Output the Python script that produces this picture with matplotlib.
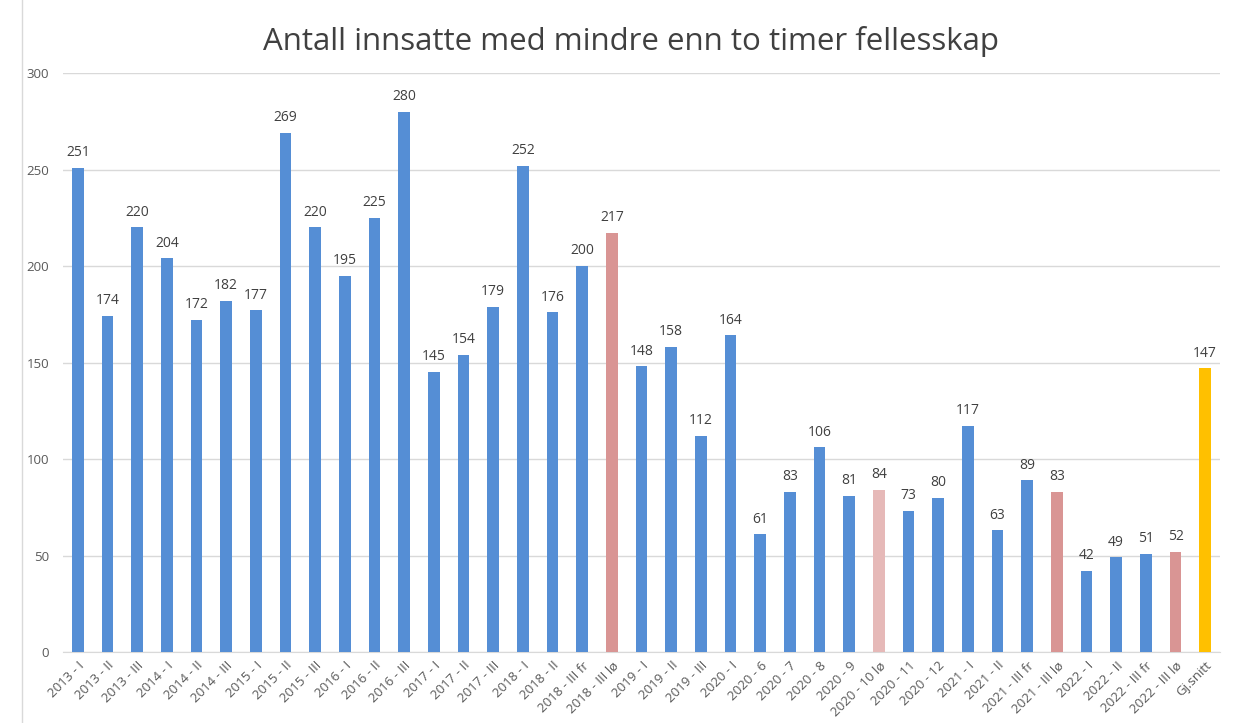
import matplotlib.pyplot as plt
import numpy as np

plt.rcParams['font.family'] = ['Open Sans', 'DejaVu Sans']

labels = ["2013 - I", "2013 - II", "2013 - III", "2014 - I", "2014 - II", "2014 - III",
          "2015 - I", "2015 - II", "2015 - III", "2016 - I", "2016 - II", "2016 - III",
          "2017 - I", "2017 - II", "2017 - III", "2018 - I", "2018 - II", "2018 - III fr",
          "2018 - III lø", "2019 - I", "2019 - II", "2019 - III", "2020 - I", "2020 - 6",
          "2020 - 7", "2020 - 8", "2020 - 9", "2020 - 10 lø", "2020 - 11", "2020 - 12",
          "2021 - I", "2021 - II", "2021 - III fr", "2021 - III lø", "2022 - I", "2022 - II",
          "2022 - III fr", "2022 - III lø", "Gj.snitt"]
values = [251, 174, 220, 204, 172, 182, 177, 269, 220, 195, 225, 280, 145, 154, 179,
          252, 176, 200, 217, 148, 158, 112, 164, 61, 83, 106, 81, 84, 73, 80,
          117, 63, 89, 83, 42, 49, 51, 52, 147]

blue = '#558ED5'
red = '#D99594'
pink = '#E6B9B8'
gold = '#FFC000'
colors = [blue] * len(values)
for lab in ["2018 - III lø", "2021 - III lø", "2022 - III lø"]:
    colors[labels.index(lab)] = red
colors[labels.index("2020 - 10 lø")] = pink
colors[labels.index("Gj.snitt")] = gold

fig = plt.figure(figsize=(12.43, 7.23), dpi=100)
ax = fig.add_axes([0.0507, 0.0982, 0.9308, 0.8008])

x = np.arange(len(values))
bars = ax.bar(x, values, width=0.4, color=colors, zorder=3)
for xi, v in zip(x, values):
    ax.text(xi, v + 4, str(v), ha='center', va='bottom', fontsize=10, color='#404040')

ax.set_xlim(-0.5, len(values) - 0.5)
ax.set_ylim(0, 300)
ax.set_yticks(range(0, 301, 50))
ax.yaxis.grid(True, color='#D9D9D9', linewidth=1, zorder=0)
ax.set_xticks(x)
ax.set_xticklabels(labels, rotation=45, ha='right', rotation_mode='anchor', fontsize=9.5, color='#595959')
ax.tick_params(axis='y', labelsize=9.5, colors='#595959', length=0, pad=10)
ax.tick_params(axis='x', length=0, pad=5)
for s in ['top', 'right', 'left']:
    ax.spines[s].set_visible(False)
ax.spines['bottom'].set_color('#D9D9D9')

fig.text(0.508, 0.943, "Antall innsatte med mindre enn to timer fellesskap", ha='center', va='center',
         fontsize=22.5, color='#404040')

fig.patches.append(plt.Rectangle((0.018, -0.01), 0.99, 1.02, transform=fig.transFigure,
                                 fill=False, edgecolor='#D9D9D9', linewidth=1))

fig.savefig('out.png', dpi=100)
